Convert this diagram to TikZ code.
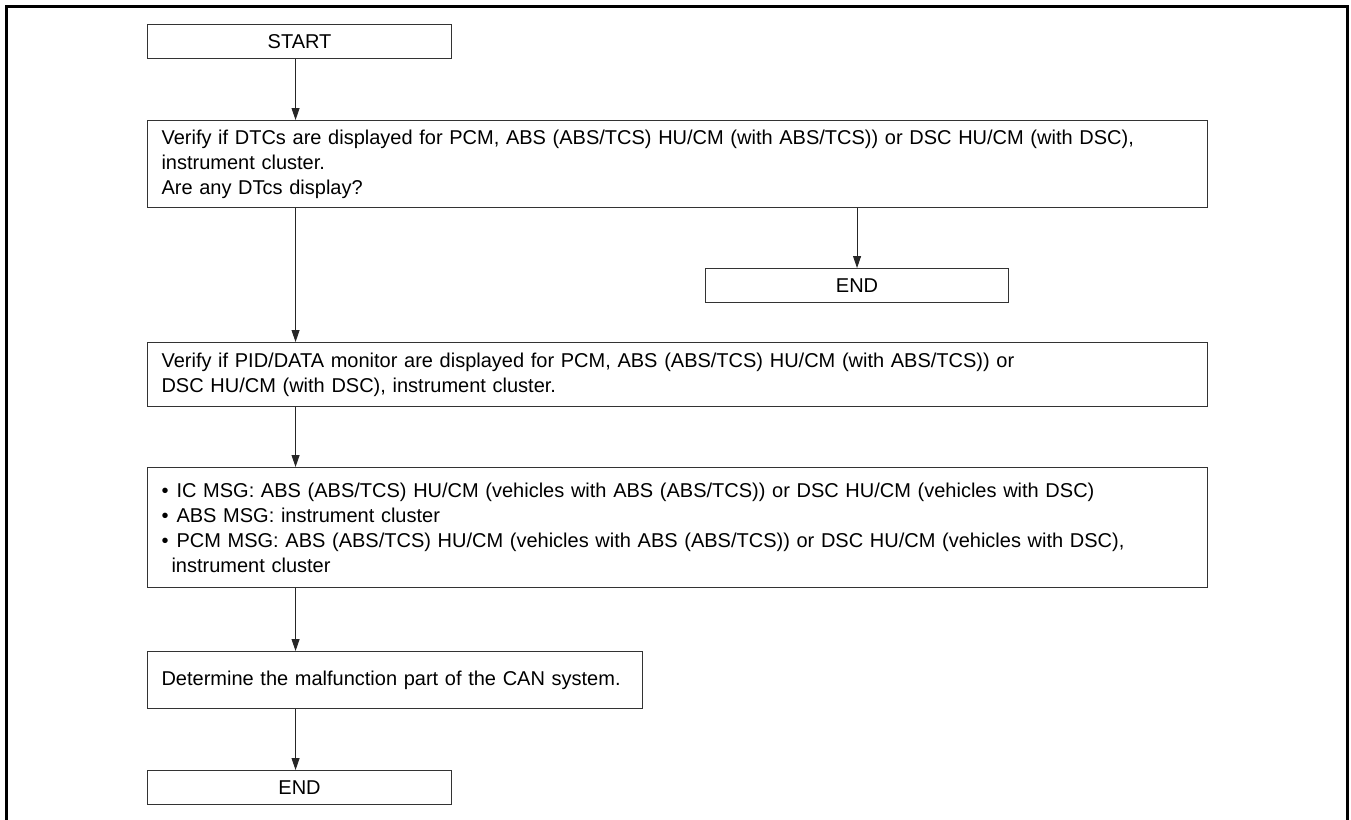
\documentclass[tikz,border=0pt]{standalone}
\usepackage{fontspec}
\setmainfont{Liberation Sans}
\usetikzlibrary{arrows.meta,calc}
\begin{document}
\begin{tikzpicture}[x=1pt,y=-1pt,
  box/.style={draw=black!80, line width=1.1pt, anchor=north west, inner ysep=0pt,
    font=\fontsize{20}{25}\selectfont, text=black},
  termbox/.style={box, minimum width=304pt, minimum height=34pt, inner xsep=0pt, align=center},
  textbox/.style={box, inner xsep=14pt, align=left},
  arr/.style={draw=black!85, line width=0.9pt, -{Triangle[length=12pt,width=8pt]}},
  frame/.style={draw=black, line width=3pt}
]
\useasboundingbox (0,0) rectangle (1351,819);
\draw[frame] (6,825) -- (6,6) -- (1347,6) -- (1347,825);

\node[termbox] (start) at (147,24) {START};
\node[textbox, text width=1032pt, minimum height=87pt] (q1) at (147,120)
  {Verify if DTCs are displayed for PCM, ABS (ABS/TCS) HU/CM (with ABS/TCS)) or DSC HU/CM (with DSC),\\
   instrument cluster.\\
   Are any DTcs display?};
\node[termbox, minimum width=303pt] (end1) at (705,268) {END};
\node[textbox, text width=1032pt, minimum height=64pt] (pid) at (147,342)
  {Verify if PID/DATA monitor are displayed for PCM, ABS (ABS/TCS) HU/CM (with ABS/TCS)) or\\
   DSC HU/CM (with DSC), instrument cluster.};
\node[textbox, text width=1032pt, minimum height=120pt] (msg) at (147,467)
  {\textbullet\hspace{8pt}IC MSG: ABS (ABS/TCS) HU/CM (vehicles with ABS (ABS/TCS)) or DSC HU/CM (vehicles with DSC)\\
   \textbullet\hspace{8pt}ABS MSG: instrument cluster\\
   \textbullet\hspace{8pt}PCM MSG: ABS (ABS/TCS) HU/CM (vehicles with ABS (ABS/TCS)) or DSC HU/CM (vehicles with DSC),\\
   \hspace*{10pt}instrument cluster};
\node[textbox, text width=467pt, minimum height=57pt] (det) at (147,651)
  {\mbox{Determine the malfunction part of the CAN system.}};
\node[termbox] (end2) at (147,770) {END};

\coordinate (c1) at ($(start.south)+(-4,0)$);
\draw[arr] (c1) -- (c1 |- q1.north);
\draw[arr] (end1.north |- q1.south) -- (end1.north);
\draw[arr] (c1 |- q1.south) -- (c1 |- pid.north);
\draw[arr] (c1 |- pid.south) -- (c1 |- msg.north);
\draw[arr] (c1 |- msg.south) -- (c1 |- det.north);
\draw[arr] (c1 |- det.south) -- (c1 |- end2.north);
\end{tikzpicture}
\end{document}
